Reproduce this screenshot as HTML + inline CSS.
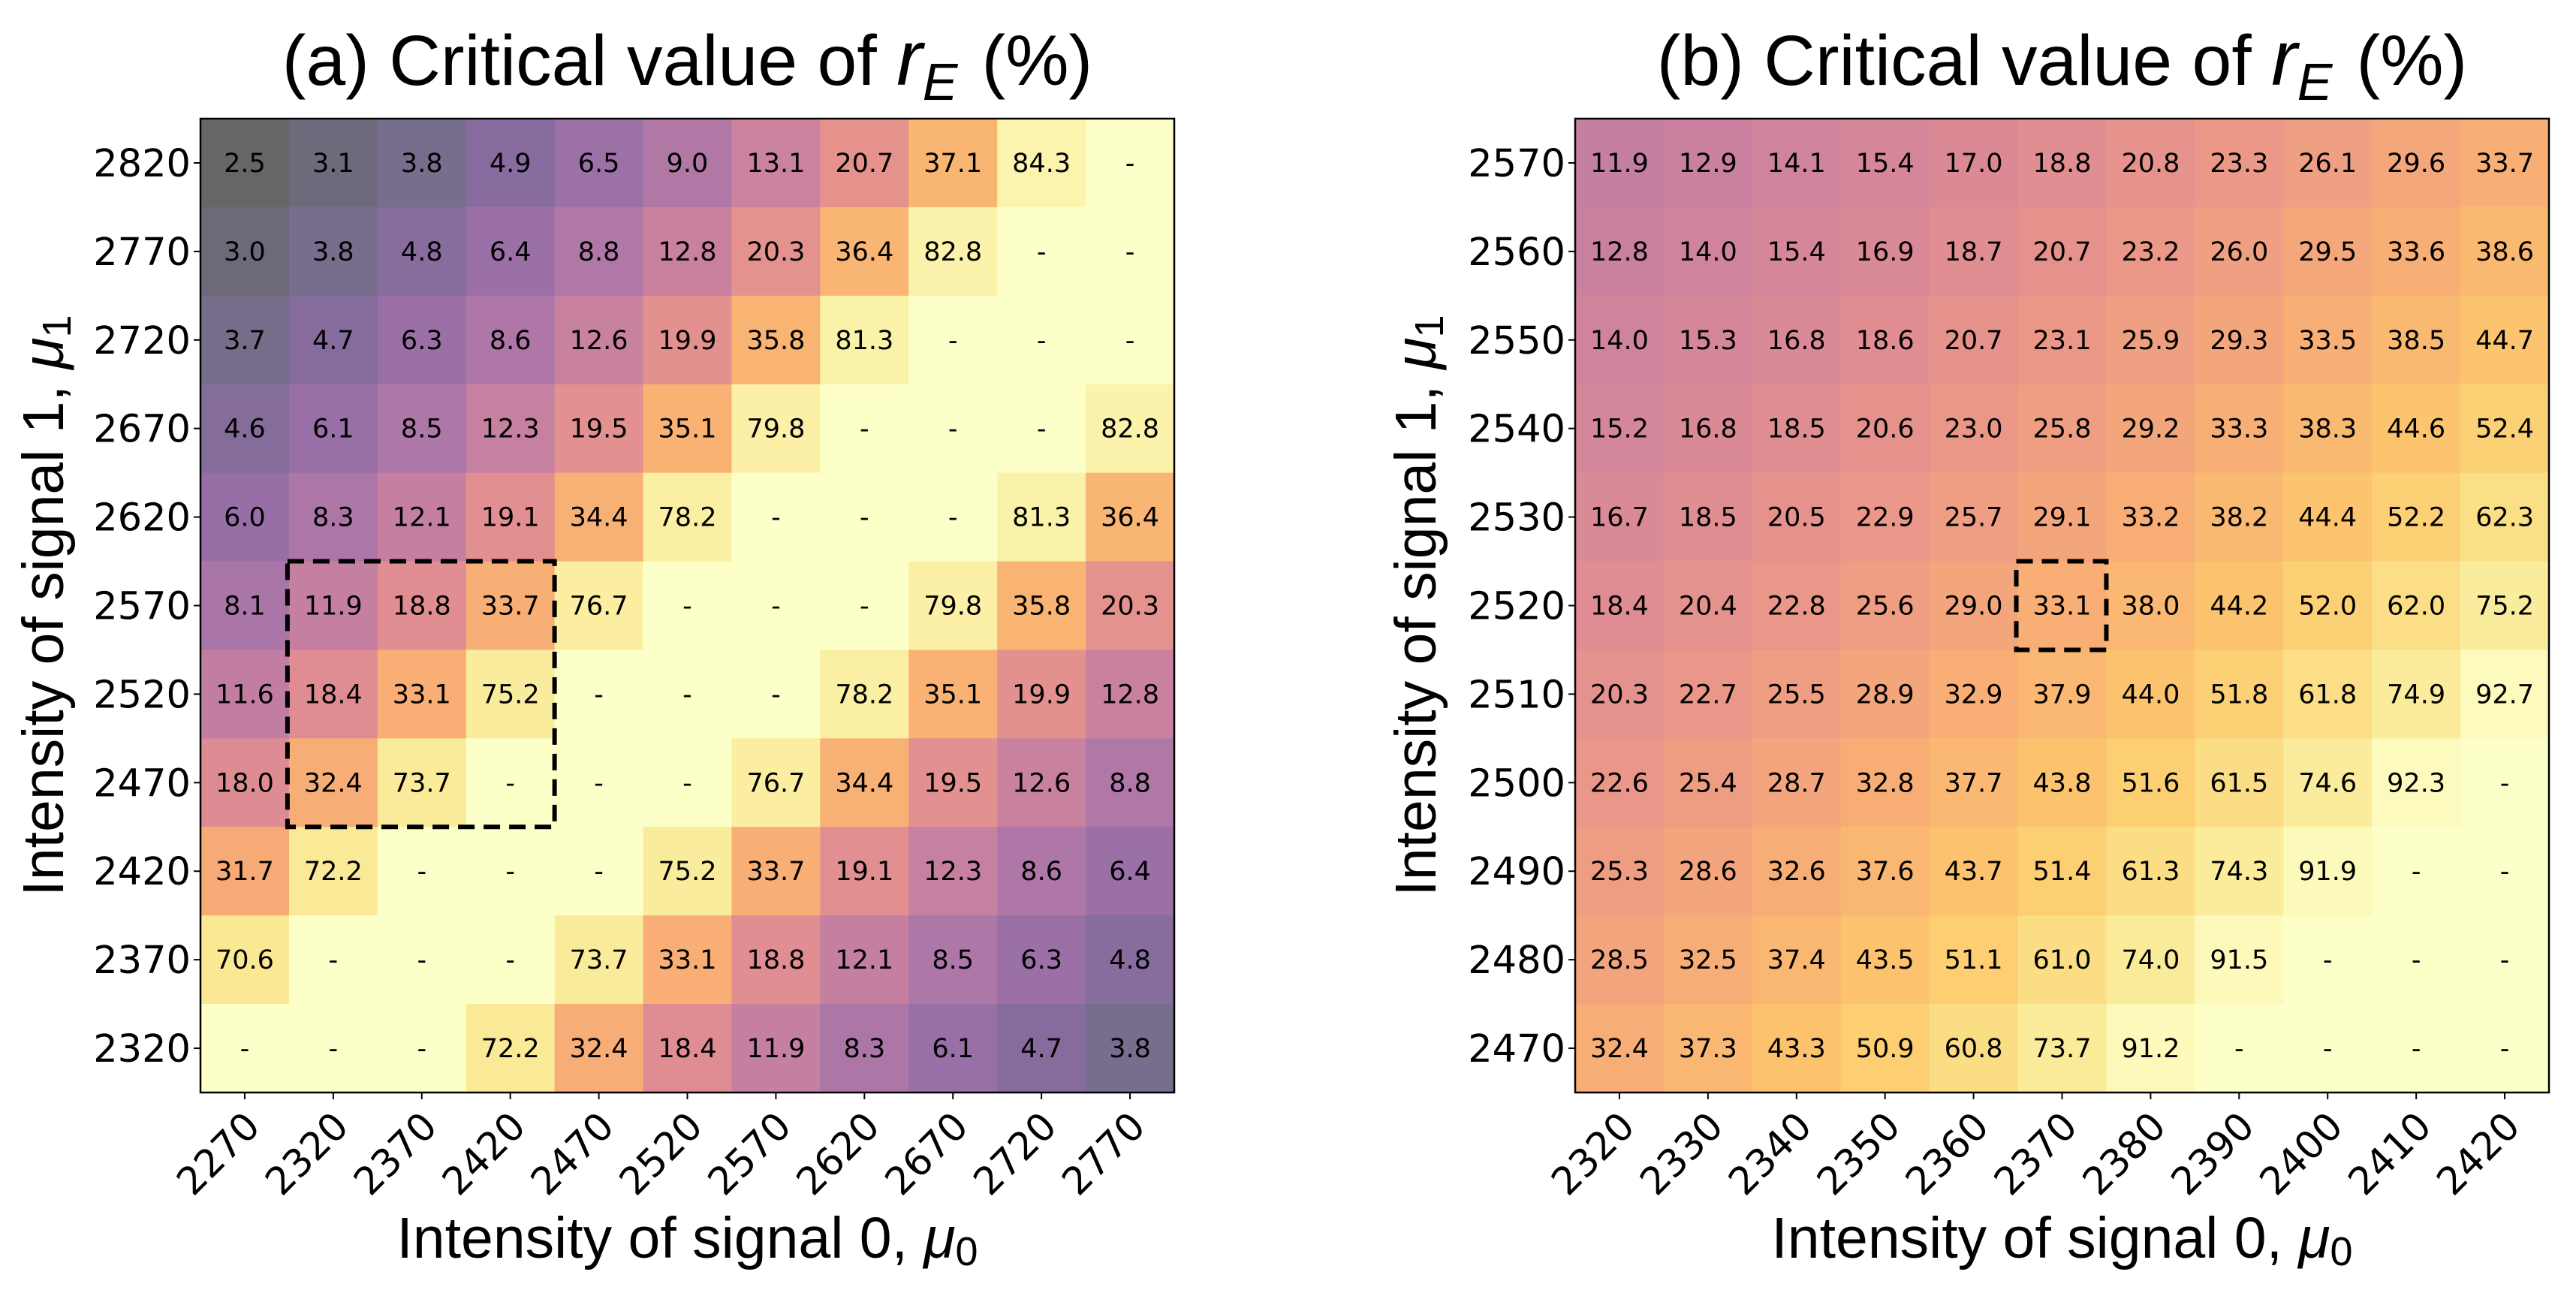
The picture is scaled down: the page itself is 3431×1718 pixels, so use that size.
<!DOCTYPE html>
<html><head><meta charset="utf-8"><style>
html,body{margin:0;padding:0;background:#fff;}
svg{display:block;}
.cell-text{font-family:"DejaVu Sans",sans-serif;font-size:35px;fill:#000;}
.tick-label{font-family:"DejaVu Sans",sans-serif;font-size:51px;fill:#000;}
.title,.axis-label{font-family:"Liberation Sans",sans-serif;fill:#000;}
</style></head><body>
<svg id="fig" width="3431" height="1718" viewBox="0 0 3431 1718" xmlns="http://www.w3.org/2000/svg">
<g id="panelA"></g>
<g id="panelB"></g>
</svg>
<script>
// ---- Panel (a) data ----
const xCatsA = [2270,2320,2370,2420,2470,2520,2570,2620,2670,2720,2770];
const yCatsA = [2820,2770,2720,2670,2620,2570,2520,2470,2420,2370,2320];
const valsA = [
[2.5,3.1,3.8,4.9,6.5,9.0,13.1,20.7,37.1,84.3,null],
[3.0,3.8,4.8,6.4,8.8,12.8,20.3,36.4,82.8,null,null],
[3.7,4.7,6.3,8.6,12.6,19.9,35.8,81.3,null,null,null],
[4.6,6.1,8.5,12.3,19.5,35.1,79.8,null,null,null,82.8],
[6.0,8.3,12.1,19.1,34.4,78.2,null,null,null,81.3,36.4],
[8.1,11.9,18.8,33.7,76.7,null,null,null,79.8,35.8,20.3],
[11.6,18.4,33.1,75.2,null,null,null,78.2,35.1,19.9,12.8],
[18.0,32.4,73.7,null,null,null,76.7,34.4,19.5,12.6,8.8],
[31.7,72.2,null,null,null,75.2,33.7,19.1,12.3,8.6,6.4],
[70.6,null,null,null,73.7,33.1,18.8,12.1,8.5,6.3,4.8],
[null,null,null,72.2,32.4,18.4,11.9,8.3,6.1,4.7,3.8]
];
const boxA = {x0:2320, x1:2420, y0:2570, y1:2470};
// ---- Panel (b) data ----
const xCatsB = [2320,2330,2340,2350,2360,2370,2380,2390,2400,2410,2420];
const yCatsB = [2570,2560,2550,2540,2530,2520,2510,2500,2490,2480,2470];
const valsB = [
[11.9,12.9,14.1,15.4,17.0,18.8,20.8,23.3,26.1,29.6,33.7],
[12.8,14.0,15.4,16.9,18.7,20.7,23.2,26.0,29.5,33.6,38.6],
[14.0,15.3,16.8,18.6,20.7,23.1,25.9,29.3,33.5,38.5,44.7],
[15.2,16.8,18.5,20.6,23.0,25.8,29.2,33.3,38.3,44.6,52.4],
[16.7,18.5,20.5,22.9,25.7,29.1,33.2,38.2,44.4,52.2,62.3],
[18.4,20.4,22.8,25.6,29.0,33.1,38.0,44.2,52.0,62.0,75.2],
[20.3,22.7,25.5,28.9,32.9,37.9,44.0,51.8,61.8,74.9,92.7],
[22.6,25.4,28.7,32.8,37.7,43.8,51.6,61.5,74.6,92.3,null],
[25.3,28.6,32.6,37.6,43.7,51.4,61.3,74.3,91.9,null,null],
[28.5,32.5,37.4,43.5,51.1,61.0,74.0,91.5,null,null,null],
[32.4,37.3,43.3,50.9,60.8,73.7,91.2,null,null,null,null]
];
const boxB = {x0:2370, x1:2370, y0:2520, y1:2520};

const INF = [[0,0,4],[22,11,57],[66,10,104],[106,23,110],[147,38,103],[188,55,84],[221,81,58],[243,120,25],[252,165,10],[246,215,70],[252,255,164]];
const VMIN=2.5, VMAX=100, ALPHA=0.6;
function color(v){
  let t = v==null?1:Math.log(v/VMIN)/Math.log(VMAX/VMIN);
  t=Math.max(0,Math.min(1,t));
  const p=t*10, i=Math.min(9,Math.floor(p)), f=p-i;
  const c=INF[i].map((a,k)=>a+(INF[i+1][k]-a)*f);
  return 'rgb('+c.map(a=>Math.round(a*ALPHA+255*(1-ALPHA))).join(',')+')';
}
const NS='http://www.w3.org/2000/svg';
function mk(tag,attrs,parent){const e=document.createElementNS(NS,tag);for(const k in attrs)e.setAttribute(k,attrs[k]);parent.appendChild(e);return e;}

function drawPanel(g, L, xCats, yCats, vals, box, letter, cx){
  const T=158, S=1297, n=xCats.length, m=yCats.length, cw=S/n, ch=S/m;
  const xPos=i=>L+cw*i, yPos=j=>T+ch*j;
  for(let j=0;j<m;j++)for(let i=0;i<n;i++){
    const v=vals[j][i];
    const r=mk('rect',{x:xPos(i),y:yPos(j),width:cw+0.6,height:ch+0.6,fill:color(v)},g);
    
    
    const t=mk('text',{x:xPos(i)+cw/2,y:yPos(j)+ch/2+12,'text-anchor':'middle',class:'cell-text'},g);
    t.textContent = v==null?'-':v.toFixed(1);
    
    
  }
  const fr=mk('rect',{x:L,y:T,width:S,height:S,fill:'none',stroke:'#000','stroke-width':2.5},g);
  
  
  const i0=xCats.indexOf(box.x0), i1=xCats.indexOf(box.x1), j0=yCats.indexOf(box.y0), j1=yCats.indexOf(box.y1);
  const db=mk('rect',{x:xPos(i0)-2,y:yPos(j0),width:cw*(i1-i0+1)+2,height:ch*(j1-j0+1),fill:'none',stroke:'#000','stroke-width':6,'stroke-dasharray':'22 12'},g);
  
  
  for(let i=0;i<n;i++){
    const x=xPos(i)+cw/2;
    mk('line',{x1:x,y1:T+S,x2:x,y2:T+S+9,stroke:'#000','stroke-width':2},g);
    const t=mk('text',{x:x+23,y:1503,'text-anchor':'end',class:'tick-label',transform:'rotate(-45 '+(x+23)+' 1503)'},g);
    t.textContent=xCats[i];
    
    
  }
  for(let j=0;j<m;j++){
    const y=yPos(j)+ch/2;
    mk('line',{x1:L-9,y1:y,x2:L,y2:y,stroke:'#000','stroke-width':2},g);
    const t=mk('text',{x:L-13,y:y+18,'text-anchor':'end',class:'tick-label'},g);
    t.textContent=yCats[j];
    
    
  }
  const ti=mk('text',{x:L+S/2,y:113,'text-anchor':'middle',class:'title','font-size':95},g);
  ti.innerHTML='('+letter+') Critical value of <tspan font-style="italic" font-size="104">r</tspan><tspan font-style="italic" font-size="70" dy="20">E</tspan><tspan dy="-20" dx="32">(%)</tspan>';
  
  
  const xl=mk('text',{x:L+S/2,y:1675,'text-anchor':'middle',class:'axis-label','font-size':77},g);
  xl.innerHTML='Intensity of signal 0, <tspan font-style="italic">μ</tspan><tspan font-size="54" dy="10">0</tspan>';
  
  
  const yx=cx, yy=T+S/2;
  const yl=mk('text',{x:yx,y:yy,'text-anchor':'middle',class:'axis-label','font-size':77,transform:'rotate(-90 '+yx+' '+yy+')'},g);
  yl.innerHTML='Intensity of signal 1, <tspan font-style="italic">μ</tspan><tspan font-size="54" dy="10">1</tspan>';
  
  
}
drawPanel(document.getElementById('panelA'),267,xCatsA,yCatsA,valsA,boxA,'a',84);
drawPanel(document.getElementById('panelB'),2098,xCatsB,yCatsB,valsB,boxB,'b',1912);
</script>
</body></html>
